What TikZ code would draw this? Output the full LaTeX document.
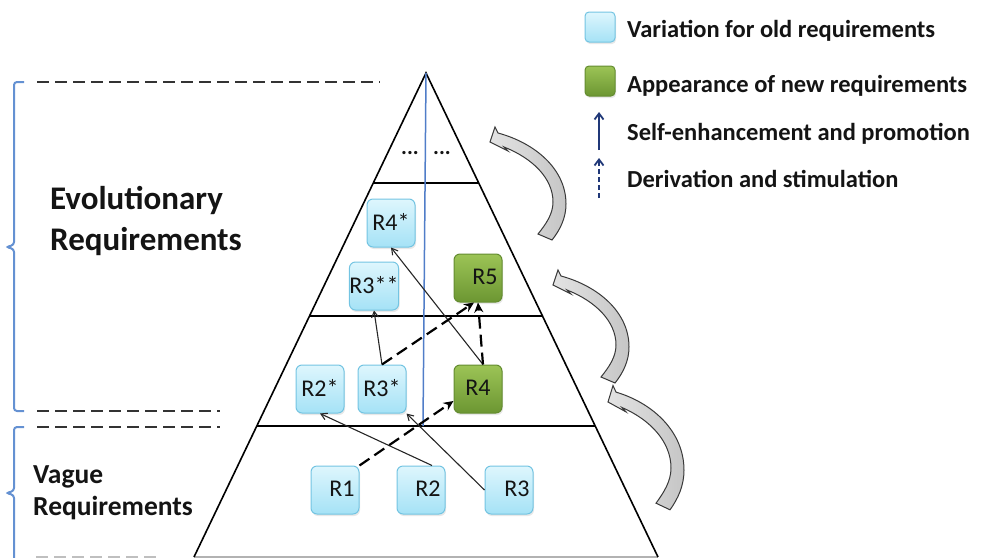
\documentclass[tikz,border=0pt]{standalone}
\usepackage{fontspec}
\setmainfont{Carlito}
\usetikzlibrary{arrows.meta,calc,shadows}
\definecolor{boxtop}{RGB}{222,246,253}
\definecolor{boxbot}{RGB}{165,226,246}
\definecolor{boxline}{RGB}{115,196,226}
\definecolor{grtop}{RGB}{156,196,86}
\definecolor{grbot}{RGB}{108,150,50}
\definecolor{grline}{RGB}{100,140,48}
\definecolor{navy}{RGB}{32,56,120}
\definecolor{bracec}{RGB}{100,145,210}
\definecolor{vline}{RGB}{80,125,200}
\definecolor{txt}{RGB}{20,20,20}
\begin{document}
\begin{tikzpicture}[x=1pt,y=-1pt,
  rbox/.style={draw=boxline, line width=1pt, rounded corners=6pt,
    top color=boxtop, bottom color=boxbot, minimum width=48pt, minimum height=48pt,
    inner sep=0pt, font=\fontsize{24}{26}\selectfont, text=txt,
    drop shadow={opacity=0.18, shadow xshift=1pt, shadow yshift=-2pt}},
  gbox/.style={rbox, draw=grline, top color=grtop, bottom color=grbot},
  pyr/.style={black, line width=1.6pt},
  guide/.style={black!80, line width=2.8pt, dash pattern=on 12pt off 6pt},
  thinarr/.style={black!85, line width=1.1pt, -{Straight Barb[length=6pt,width=7pt]}},
  dasharr/.style={black, line width=2.2pt, dash pattern=on 12pt off 6pt, -{Stealth[length=10pt,width=9pt]}},
  brace/.style={bracec, line width=2pt, rounded corners=3pt},
  legtxt/.style={anchor=base west, inner sep=0pt, text=txt, font=\fontsize{24.5}{26}\selectfont\bfseries},
  garrow/.style={draw=gray!45!black, line width=1pt, left color=gray!22, right color=gray!45},
  curvarr/.pic={\path[garrow] (0,0) -- (5,-15) -- (8,-9)
      .. controls (45,1) and (76,27) .. (76,62)
      .. controls (76,76) and (70,88) .. (62,98) -- (48,92)
      .. controls (56,82) and (63,72) .. (63,60)
      .. controls (63,36) and (42,16) .. (14,5) -- (18,9) -- cycle;}
]
\useasboundingbox (0,0) rectangle (982,557);

% left braces
\draw[brace] (24,82) -- (14,82) -- (14,245) -- (6,247) -- (14,249) -- (14,411) -- (24,411);
\draw[brace] (24,427) -- (14,427) -- (14,491) -- (6,493) -- (14,495) -- (14,570);

% dashed guides
\draw[guide] (37,82) -- (380,82);
\draw[guide] (37,411) -- (220,411);
\draw[guide] (37,427) -- (220,427);
\draw[gray!50, line width=1.5pt, dash pattern=on 12pt off 6pt] (36,557) -- (156,557);

% labels
\node[anchor=base west, inner sep=0pt, text=txt, font=\fontsize{33}{35}\selectfont\bfseries] (evo1) at (50,209) {Evolutionary};
\node[anchor=base west, inner sep=0pt, text=txt, font=\fontsize{33}{35}\selectfont\bfseries] (evo2) at (50,250) {Requirements};
\node[anchor=base west, inner sep=0pt, text=txt, font=\fontsize{27.5}{29}\selectfont\bfseries] (vag1) at (33,483) {Vague};
\node[anchor=base west, inner sep=0pt, text=txt, font=\fontsize{27.5}{29}\selectfont\bfseries] (vag2) at (33,515) {Requirements};

% pyramid
\coordinate (apex) at (426,73);
\coordinate (bl) at (194,557);
\coordinate (br) at (658,557);
\draw[gray!60, line width=1.2pt] (bl) -- (br);
\draw[pyr] (bl) -- (apex) -- (br);
\draw[pyr] ($(apex)!0.2273!(bl)$) -- ($(apex)!0.2273!(br)$);
\draw[pyr] ($(apex)!0.5021!(bl)$) -- ($(apex)!0.5021!(br)$);
\draw[pyr] ($(apex)!0.7293!(bl)$) -- ($(apex)!0.7293!(br)$);
\coordinate (vbot) at (423,426);
\draw[vline, line width=1.5pt] (apex) -- (vbot);

\node[text=txt, font=\fontsize{22}{22}\selectfont\bfseries] (dots1) at (410,153) {...};
\node[text=txt, font=\fontsize{22}{22}\selectfont\bfseries] (dots2) at (442,153) {...};

% boxes
\node[rbox] (r4s) at (391,223) {\raisebox{2pt}{R4*}};
\node[rbox] (r3ss) at (374,286) {\raisebox{2pt}{R3**}};
\node[gbox] (r5) at (478,278) {\hspace*{14pt}\raisebox{3pt}{R5}};
\node[rbox] (r2s) at (320,389) {\raisebox{3pt}{R2*}};
\node[rbox] (r3s) at (382,389) {\raisebox{3pt}{R3*}};
\node[gbox] (r4) at (478,389) {\raisebox{3pt}{R4}};
\node[rbox] (r1) at (335,490) {\hspace*{14pt}\raisebox{2pt}{R1}};
\node[rbox] (r2) at (421,490) {\hspace*{14pt}\raisebox{2pt}{R2}};
\node[rbox] (r3) at (509,490) {\hspace*{16pt}\raisebox{2pt}{R3}};

% connectors
\draw[thinarr] (r3.west) -- (r3s.south east);
\draw[thinarr] ([xshift=11pt]r2.north) -- (r2s.south);
\draw[thinarr] (r3s.north) -- (r3ss.south);
\draw[thinarr] ([xshift=5pt]r4.north) -- (r4s.south);
\draw[dasharr] (r1.north east) -- ([yshift=-12pt]r4.west);
\draw[dasharr] (r3s.north) -- ([xshift=-4pt]r5.south);
\draw[dasharr] ([xshift=5pt]r4.north) -- (r5.south);

% curved grey arrows
\pic (ca1) at (490,142) {curvarr};
\pic (ca2) at (553,285) {curvarr};
\pic[yscale=1.1] (ca3) at (608,402) {curvarr};

% legend
\node[rbox, minimum width=30pt, minimum height=30pt, rounded corners=4pt] (lg1) at (600,27) {};
\node[gbox, minimum width=30pt, minimum height=30pt, rounded corners=4pt] (lg2) at (600,81) {};
\coordinate (la1) at (599,150);
\coordinate (la2) at (599,112);
\coordinate (lb1) at (599,198);
\coordinate (lb2) at (599,158);
\draw[navy, line width=1.8pt, -{Straight Barb[length=6pt,width=9pt]}] (la1) -- (la2);
\draw[navy, line width=1.8pt, dash pattern=on 5pt off 3pt, -{Straight Barb[length=6pt,width=9pt]}] (lb1) -- (lb2);
\node[legtxt] (lt1) at (627,37.5) {Variation for old requirements};
\node[legtxt] (lt2) at (627,92) {Appearance of new requirements};
\node[legtxt] (lt3) at (627,140) {Self-enhancement and promotion};
\node[legtxt] (lt4) at (627,187) {Derivation and stimulation};
\end{tikzpicture}
\end{document}
